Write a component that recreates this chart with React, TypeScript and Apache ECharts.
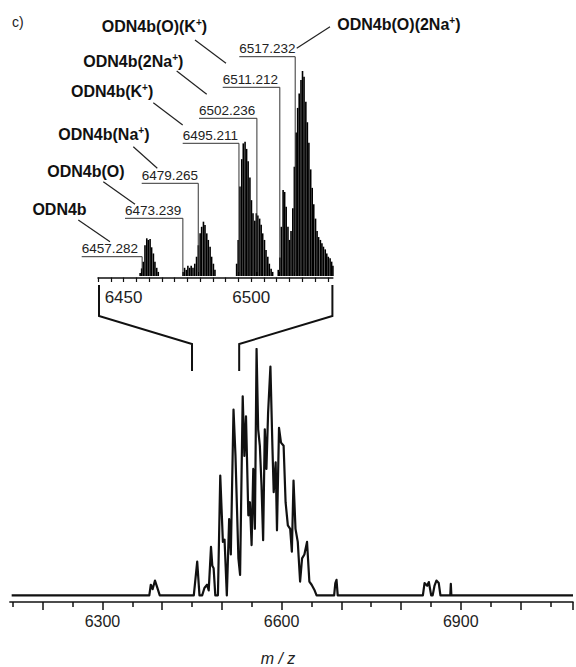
import React, { useEffect, useRef } from 'react';
import * as echarts from 'echarts';

const FONT = '"Liberation Sans", Arial, Helvetica, sans-serif';

// Main spectrum (m/z, relative intensity %)
const mainMz = [6148, 6378.5, 6381, 6384, 6388, 6392, 6396, 6453, 6458.7, 6462.5, 6467, 6470.8, 6475.2, 6478, 6481.8, 6484, 6486.2, 6489, 6493.4, 6497.3, 6501.7, 6504.5, 6508.3, 6512.2, 6515, 6519.5, 6522.8, 6527.7, 6530.5, 6534.9, 6537.7, 6540.4, 6544.3, 6547, 6549.8, 6552.6, 6555.3, 6558.1, 6560.8, 6563.6, 6566.4, 6569.1, 6571.9, 6574.6, 6577.4, 6581.3, 6584.6, 6586.8, 6590.1, 6592.3, 6595.7, 6599, 6603.4, 6606.7, 6610.5, 6614.4, 6617.2, 6620, 6623.3, 6627.1, 6631, 6634.3, 6638.2, 6642.6, 6646.5, 6650.3, 6654.8, 6658.6, 6688, 6690, 6692, 6694, 6836.6, 6839.4, 6843.8, 6846.6, 6850.5, 6853, 6856, 6859.3, 6863.2, 6866, 6882.5, 6883.4, 6884.3, 7088];
const mainInt = [0, 0, 4.3, 2.5, 6, 3, 0, 0, 13.7, 0, 0, 3, 4.3, 2, 19.7, 12, 11, 0, 0, 48.6, 21.7, 22.6, 0, 31, 16.6, 75.4, 56.6, 15, 8.3, 80.8, 56.6, 72.7, 32.5, 37.8, 20.4, 51.3, 27, 100, 67.4, 60.7, 44.5, 22.4, 67.4, 51.3, 74, 92.9, 60.7, 41.9, 54, 26.4, 68, 62, 60.7, 37.8, 28.4, 27, 17.7, 46.6, 27, 21.7, 5.6, 15, 16.6, 21.7, 5.6, 4.3, 2.3, 0, 0, 5, 6.3, 0, 0, 5, 3.9, 5.4, 0, 0, 3.8, 6, 5, 0, 0, 4.7, 0, 0];

// Inset (zoomed) spectrum
const insetMz = [6456.5, 6457.1, 6457.7, 6458.4, 6459.1, 6459.7, 6460.4, 6461.0, 6461.7, 6462.3, 6463.0, 6463.6,
  6473.3, 6473.9, 6474.6, 6475.2, 6475.9, 6476.5, 6477.2, 6477.9,
  6478.6, 6479.3, 6480.0, 6480.6, 6481.3, 6481.9, 6482.6, 6483.2, 6483.9, 6484.5, 6485.2, 6485.8,
  6494.3, 6494.9, 6495.6, 6496.3, 6496.9, 6497.6, 6498.2, 6498.8, 6499.5, 6500.1, 6500.7, 6501.4, 6502.0, 6502.6, 6503.3, 6503.9, 6504.5, 6505.2, 6505.8, 6506.5, 6507.1, 6507.8, 6508.4,
  6510.6, 6511.2, 6511.8, 6512.5, 6513.1, 6513.7, 6514.4, 6515.0, 6515.6, 6516.3, 6516.9, 6517.6, 6518.2, 6518.8, 6519.5, 6520.1, 6520.7, 6521.4, 6522.0, 6522.6, 6523.3, 6523.9, 6524.5, 6525.2, 6525.8, 6526.4, 6527.1, 6527.7, 6528.3, 6529.0, 6529.6, 6530.2, 6530.9, 6531.5, 6532.0];
const insetInt = [1.5, 3.7, 7, 15, 18.4, 17.6, 18, 14, 11, 7, 4, 2,
  2, 4, 3, 5, 4, 5, 4, 6,
  9.4, 15, 20.8, 24, 26.5, 24.9, 20.8, 17.6, 14.3, 9.4, 6, 3,
  6, 17.6, 43.6, 57, 64.7, 65.5, 62, 56, 48, 37, 30.6, 27, 30.6, 29.5, 28, 25, 20.8, 17.6, 12.7, 9.4, 6, 3.5, 2,
  3, 9, 24, 42, 41, 33.8, 24, 17.6, 22, 33, 53.3, 70, 82, 89, 95.6, 100, 97.2, 85, 75, 65, 52, 43, 35, 28, 22, 19, 17.6, 16, 14.3, 13, 11, 9.4, 8.6, 7, 5];

const mainTickLabels = [6300, 6600, 6900];
const insetTickLabels = [6450, 6500];

const peakLabels = ['6457.282', '6473.239', '6479.265', '6495.211', '6502.236', '6511.212', '6517.232'];
const peakMz = [6457.282, 6473.239, 6479.265, 6495.211, 6502.236, 6511.212, 6517.232];
// layout of the number labels (page coords): underline left x, underline y
const peakUl = [[81.7, 256.7], [125, 218.3], [141.7, 183.3], [182.7, 143.3], [199, 118.3], [222.7, 87.3], [239.3, 56.7]];

const speciesNames = ['ODN4b(O)(K+)', 'ODN4b(2Na+)', 'ODN4b(K+)', 'ODN4b(Na+)', 'ODN4b(O)', 'ODN4b', 'ODN4b(O)(2Na+)'];
// layout (page coords): left x, baseline y
const speciesPos = [[101.7, 31.7], [83.3, 66.7], [71, 96.7], [58.3, 140], [47.3, 176.7], [32.4, 215], [337.3, 30]];
const leaders = [[195, 40, 226, 63.3], [176.7, 71, 206.7, 94.3], [153.3, 102.7, 182.7, 125], [133.3, 146.7, 157.3, 168.3], [103.3, 181.7, 135, 204.3], [78.3, 220, 110, 241.7], [330, 26.7, 296.7, 48.3]];

// the chart canvas is shifted left by OFF px so that the axis can start before the page edge
const OFF = 20;
const W = 576 + OFF;

function toRich(name: string) {
  const parts = name.split('+');
  if (parts.length === 1) return `{b|${name}}`;
  return `{b|${parts[0]}}{s|+}{b|${parts[1]}}`;
}

export default function App() {
  const ref = useRef<HTMLDivElement>(null);
  useEffect(() => {
    const el = ref.current!;
    const chart = echarts.init(el, undefined, { renderer: 'svg' });
    const axisCol = '#111';
    chart.setOption({
      animation: false,
      backgroundColor: '#fff',
      grid: [
        { left: 0.4, right: 0, top: 349, bottom: 63 },
        { left: 98 + OFF, right: W - (332.9 + OFF), top: 71, bottom: 389.5 },
      ],
      xAxis: [
        {
          gridIndex: 0, type: 'value', min: 6100, max: 7088, interval: 100,
          axisLine: { onZero: false, lineStyle: { color: axisCol, width: 1.5 } },
          axisTick: { length: 8, lineStyle: { color: axisCol, width: 1.5 } },
          minorTick: { show: true, splitNumber: 2, length: 5, lineStyle: { color: axisCol, width: 1.5 } },
          splitLine: { show: false },
          axisLabel: {
            formatter: (v: number) => (mainTickLabels.includes(v) ? String(v) : ''),
            fontSize: 16, color: '#222', margin: 11, fontFamily: FONT,
          },
          name: 'm / z', nameLocation: 'middle', nameGap: 48,
          nameTextStyle: { fontStyle: 'italic', fontSize: 16, color: '#222', fontFamily: FONT },
        },
        {
          gridIndex: 1, type: 'value', min: 6440, max: 6532, interval: 5,
          axisLine: { onZero: false, lineStyle: { color: axisCol, width: 1.5 } },
          axisTick: { length: 4.5, lineStyle: { color: axisCol, width: 1.2 } },
          splitLine: { show: false },
          axisLabel: {
            formatter: (v: number) => (insetTickLabels.includes(v) ? String(v) : ''),
            fontSize: 17, color: '#222', margin: 11, fontFamily: FONT,
            showMaxLabel: false,
          },
        },
      ],
      yAxis: [
        { gridIndex: 0, type: 'value', min: -2.7, max: 100, show: false },
        { gridIndex: 1, type: 'value', min: -0.73, max: 100, show: false },
      ],
      series: [
        {
          type: 'line', xAxisIndex: 0, yAxisIndex: 0, symbol: 'none', silent: true,
          data: mainMz.map((m, i) => [m, mainInt[i]]),
          lineStyle: { color: '#111', width: 2.2, join: 'round' },
        },
        {
          type: 'bar', xAxisIndex: 1, yAxisIndex: 1, silent: true, barWidth: 1.6,
          data: insetMz.map((m, i) => [m, insetInt[i]]),
          itemStyle: { color: '#000' },
        },
      ],
    });

    const px = (axis: number, v: number) => chart.convertToPixel({ xAxisIndex: axis }, v) as number;
    const g: any[] = [];
    const thin = { stroke: '#333', lineWidth: 1 };

    // cover left end of the axis so it starts where the reference's does
    g.push({ type: 'rect', shape: { x: 0, y: 585, width: OFF + 9.3, height: 30 }, style: { fill: '#fff' }, z: 50 });

    // bracket
    const ix0 = px(1, 6440) + 1;
    const ix1 = px(1, 6532) - 0.5;
    const mx0 = px(0, 6450);
    const mx1 = px(0, 6529);
    g.push({ type: 'polyline', shape: { points: [[ix0, 285], [ix0, 316], [mx0, 344], [mx0, 371]] }, style: { stroke: '#111', lineWidth: 2, fill: null }, z: 60 });
    g.push({ type: 'polyline', shape: { points: [[ix1, 285], [ix1, 316], [mx1, 344], [mx1, 371]] }, style: { stroke: '#111', lineWidth: 2, fill: null }, z: 60 });

    // peak number labels
    peakLabels.forEach((t, i) => {
      const x = px(1, peakMz[i]);
      const ul = peakUl[i][0] + OFF;
      const uy = peakUl[i][1];
      g.push({ type: 'line', shape: { x1: ul, y1: uy, x2: x, y2: uy }, style: thin, z: 60 });
      g.push({ type: 'line', shape: { x1: x, y1: uy, x2: x, y2: 272 }, style: thin, z: 60 });
      g.push({
        type: 'text', x: ul, y: uy - 8, z: 60,
        style: { text: t, fontSize: 13.5, fontFamily: FONT, fill: '#222', align: 'left', verticalAlign: 'middle' },
      });
    });

    // species labels
    speciesNames.forEach((n, i) => {
      const x = speciesPos[i][0] + OFF;
      const by = speciesPos[i][1];
      g.push({
        type: 'text', x, y: by - 5.6, z: 60,
        style: {
          text: toRich(n), align: 'left', verticalAlign: 'middle', fill: '#111',
          rich: {
            b: { fontSize: 16, fontWeight: 'bold', fontFamily: FONT, fill: '#111', lineHeight: 18 },
            s: { fontSize: 10, fontWeight: 'bold', fontFamily: FONT, fill: '#111', lineHeight: 10, verticalAlign: 'top' },
          },
        },
      });
      const [a, b, c, d] = leaders[i];
      g.push({ type: 'line', shape: { x1: a + OFF, y1: b, x2: c + OFF, y2: d }, style: { stroke: '#222', lineWidth: 1.2 }, z: 60 });
    });

    g.push({
      type: 'text', x: 12 + OFF, y: 21.5, z: 60,
      style: { text: 'c)', fontSize: 14, fontFamily: FONT, fill: '#222', align: 'left', verticalAlign: 'middle' },
    });

    chart.setOption({ graphic: g });
    return () => chart.dispose();
  }, []);
  return <div ref={ref} style={{ position: 'absolute', left: -OFF, top: 0, width: W, height: 667, background: '#fff' }} />;
}
